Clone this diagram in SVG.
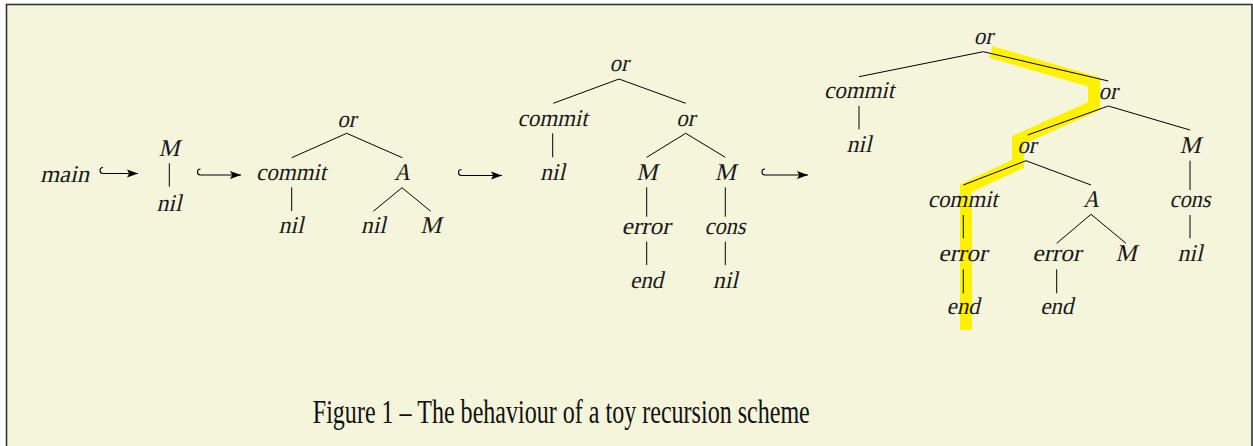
<svg xmlns="http://www.w3.org/2000/svg" width="1253" height="446" viewBox="0 0 1253 446">
<style>
.t{font-family:"Liberation Serif","Times New Roman",serif;font-style:normal;font-size:24px;fill:#1a1a1a;text-anchor:middle}
.e{stroke:#000;stroke-width:1;fill:none}
.ar{stroke:#000;stroke-width:1.1;fill:none}
.cap{font-family:"Liberation Serif","Times New Roman",serif;font-size:33px;fill:#111;text-anchor:middle}
</style>
<defs>
<marker id="ah" markerWidth="11" markerHeight="9" refX="11" refY="4.5" orient="auto" markerUnits="userSpaceOnUse">
<path d="M0,0.5 L11,4.5 L0,8.5 L2.2,4.5 Z" fill="#000"/>
</marker>
</defs>
<rect x="0" y="0" width="1253" height="446" fill="#fff"/>
<rect x="6.5" y="4.5" width="1245.5" height="460" fill="#F5F5DC" stroke="#333" stroke-width="1.6"/>
<polyline points="991,52 1094,82 1094,106 1018,140 1018,164 966,188 966,330" fill="none" stroke="#FFF200" stroke-width="12" stroke-linejoin="miter" stroke-linecap="butt"/>
<g id="connectors">
<path class="ar" d="M103,167.5 A3,3 0 0 0 103,173.5 L138,173.5" marker-end="url(#ah)"/>
<path class="ar" d="M200.5,169 A3,3 0 0 0 200.5,175 L241,175" marker-end="url(#ah)"/>
<path class="ar" d="M461.5,169.5 A3,3 0 0 0 461.5,175.5 L502,175.5" marker-end="url(#ah)"/>
<path class="ar" d="M765,169 A3,3 0 0 0 765,175 L808,175" marker-end="url(#ah)"/>
<line class="e" x1="169.3" y1="163.3" x2="169.3" y2="186.7"/>
<line class="e" x1="346.7" y1="133.3" x2="291.7" y2="157.7"/>
<line class="e" x1="346.7" y1="133.3" x2="402.3" y2="157.7"/>
<line class="e" x1="291.7" y1="187.3" x2="291.7" y2="211"/>
<line class="e" x1="402" y1="187.7" x2="373.3" y2="211.3"/>
<line class="e" x1="402" y1="187.7" x2="430.7" y2="211.3"/>
<line class="e" x1="619" y1="79" x2="553.3" y2="103.3"/>
<line class="e" x1="619" y1="79" x2="685.7" y2="103.3"/>
<line class="e" x1="552.7" y1="133.3" x2="552.7" y2="157.3"/>
<line class="e" x1="685.7" y1="133.3" x2="646.7" y2="157.3"/>
<line class="e" x1="685.7" y1="133.3" x2="725.3" y2="157.3"/>
<line class="e" x1="646.7" y1="187.3" x2="646.7" y2="216.7"/>
<line class="e" x1="725.3" y1="187.3" x2="725.3" y2="216.7"/>
<line class="e" x1="646.7" y1="241.7" x2="646.7" y2="265"/>
<line class="e" x1="725.3" y1="241.7" x2="725.3" y2="265"/>
<line class="e" x1="983.3" y1="51.7" x2="859" y2="76.7"/>
<line class="e" x1="983.3" y1="51.7" x2="1108.3" y2="81"/>
<line class="e" x1="859" y1="106" x2="859" y2="129.3"/>
<line class="e" x1="1108.3" y1="106" x2="1027.7" y2="135"/>
<line class="e" x1="1108.3" y1="106" x2="1190" y2="130"/>
<line class="e" x1="1026" y1="160.7" x2="963.3" y2="185"/>
<line class="e" x1="1026" y1="160.7" x2="1091" y2="185"/>
<line class="e" x1="1190" y1="160.7" x2="1190" y2="190"/>
<line class="e" x1="1190" y1="215" x2="1190" y2="238.3"/>
<line class="e" x1="963.3" y1="215" x2="963.3" y2="238.3"/>
<line class="e" x1="963.3" y1="269.3" x2="963.3" y2="293.3"/>
<line class="e" x1="1091" y1="214.3" x2="1056.7" y2="243.3"/>
<line class="e" x1="1091" y1="214.3" x2="1126" y2="243.3"/>
<line class="e" x1="1056.7" y1="269.3" x2="1056.7" y2="293.3"/>
</g>
<g id="p1-main" transform="translate(64.5,181.7) skewX(-13)"><text class="t" textLength="49" lengthAdjust="spacingAndGlyphs">main</text></g>
<g id="p1-M" transform="translate(169,156) skewX(-13)"><text class="t" textLength="21" lengthAdjust="spacingAndGlyphs">M</text></g>
<g id="p1-nil" transform="translate(169,210.7) skewX(-13)"><text class="t" textLength="25" lengthAdjust="spacingAndGlyphs">nil</text></g>
<g id="p2-or" transform="translate(346.7,127) skewX(-13)"><text class="t" textLength="19" lengthAdjust="spacingAndGlyphs">or</text></g>
<g id="p2-commit" transform="translate(291,180) skewX(-13)"><text class="t" textLength="70" lengthAdjust="spacingAndGlyphs">commit</text></g>
<g id="p2-A" transform="translate(402,180) skewX(-13)"><text class="t" textLength="16" lengthAdjust="spacingAndGlyphs">A</text></g>
<g id="p2-nil1" transform="translate(291,233) skewX(-13)"><text class="t" textLength="25" lengthAdjust="spacingAndGlyphs">nil</text></g>
<g id="p2-nil2" transform="translate(373.3,233) skewX(-13)"><text class="t" textLength="25" lengthAdjust="spacingAndGlyphs">nil</text></g>
<g id="p2-M" transform="translate(430.7,233) skewX(-13)"><text class="t" textLength="21" lengthAdjust="spacingAndGlyphs">M</text></g>
<g id="p3-or1" transform="translate(619,71) skewX(-13)"><text class="t" textLength="19" lengthAdjust="spacingAndGlyphs">or</text></g>
<g id="p3-commit" transform="translate(552.5,126) skewX(-13)"><text class="t" textLength="70" lengthAdjust="spacingAndGlyphs">commit</text></g>
<g id="p3-or2" transform="translate(685.7,126) skewX(-13)"><text class="t" textLength="19" lengthAdjust="spacingAndGlyphs">or</text></g>
<g id="p3-nil1" transform="translate(552.5,180) skewX(-13)"><text class="t" textLength="25" lengthAdjust="spacingAndGlyphs">nil</text></g>
<g id="p3-M1" transform="translate(646.7,180) skewX(-13)"><text class="t" textLength="21" lengthAdjust="spacingAndGlyphs">M</text></g>
<g id="p3-M2" transform="translate(725.3,180) skewX(-13)"><text class="t" textLength="21" lengthAdjust="spacingAndGlyphs">M</text></g>
<g id="p3-error" transform="translate(646,234) skewX(-13)"><text class="t" textLength="49" lengthAdjust="spacingAndGlyphs">error</text></g>
<g id="p3-cons" transform="translate(725,234) skewX(-13)"><text class="t" textLength="41" lengthAdjust="spacingAndGlyphs">cons</text></g>
<g id="p3-end" transform="translate(646.5,288) skewX(-13)"><text class="t" textLength="33" lengthAdjust="spacingAndGlyphs">end</text></g>
<g id="p3-nil2" transform="translate(725.3,288) skewX(-13)"><text class="t" textLength="25" lengthAdjust="spacingAndGlyphs">nil</text></g>
<g id="p4-or1" transform="translate(983.3,44) skewX(-13)"><text class="t" textLength="19" lengthAdjust="spacingAndGlyphs">or</text></g>
<g id="p4-commit1" transform="translate(859,98.3) skewX(-13)"><text class="t" textLength="70" lengthAdjust="spacingAndGlyphs">commit</text></g>
<g id="p4-or2" transform="translate(1108,99) skewX(-13)"><text class="t" textLength="19" lengthAdjust="spacingAndGlyphs">or</text></g>
<g id="p4-nil1" transform="translate(859,151.7) skewX(-13)"><text class="t" textLength="25" lengthAdjust="spacingAndGlyphs">nil</text></g>
<g id="p4-or3" transform="translate(1026.7,153) skewX(-13)"><text class="t" textLength="19" lengthAdjust="spacingAndGlyphs">or</text></g>
<g id="p4-M1" transform="translate(1190,153) skewX(-13)"><text class="t" textLength="21" lengthAdjust="spacingAndGlyphs">M</text></g>
<g id="p4-commit2" transform="translate(962.7,206.7) skewX(-13)"><text class="t" textLength="70" lengthAdjust="spacingAndGlyphs">commit</text></g>
<g id="p4-A" transform="translate(1091,206.7) skewX(-13)"><text class="t" textLength="16" lengthAdjust="spacingAndGlyphs">A</text></g>
<g id="p4-cons" transform="translate(1190,206.7) skewX(-13)"><text class="t" textLength="41" lengthAdjust="spacingAndGlyphs">cons</text></g>
<g id="p4-error1" transform="translate(962.7,260.7) skewX(-13)"><text class="t" textLength="49" lengthAdjust="spacingAndGlyphs">error</text></g>
<g id="p4-error2" transform="translate(1056.7,260.7) skewX(-13)"><text class="t" textLength="49" lengthAdjust="spacingAndGlyphs">error</text></g>
<g id="p4-M2" transform="translate(1126,260.7) skewX(-13)"><text class="t" textLength="21" lengthAdjust="spacingAndGlyphs">M</text></g>
<g id="p4-nil2" transform="translate(1190,260.7) skewX(-13)"><text class="t" textLength="25" lengthAdjust="spacingAndGlyphs">nil</text></g>
<g id="p4-end1" transform="translate(963,314.3) skewX(-13)"><text class="t" textLength="33" lengthAdjust="spacingAndGlyphs">end</text></g>
<g id="p4-end2" transform="translate(1056.7,314.3) skewX(-13)"><text class="t" textLength="33" lengthAdjust="spacingAndGlyphs">end</text></g>
<g id="caption"><text class="cap" x="561.3" y="423.3" textLength="497" lengthAdjust="spacingAndGlyphs">Figure 1 – The behaviour of a toy recursion scheme</text></g>
</svg>
